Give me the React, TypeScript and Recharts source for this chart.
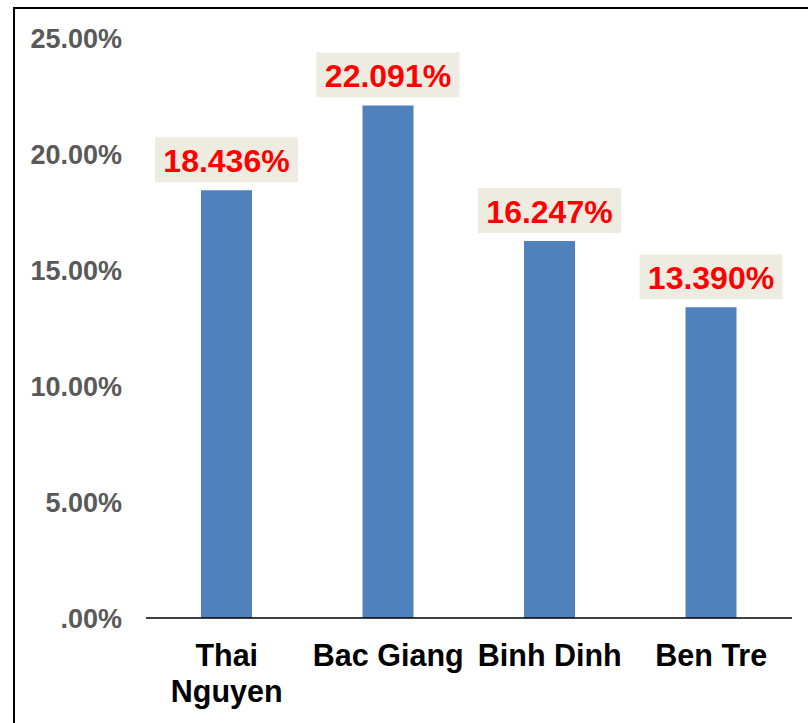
import React from "react";
import { BarChart, Bar, XAxis, YAxis, LabelList } from "recharts";

const provinces = ["Thai Nguyen", "Bac Giang", "Binh Dinh", "Ben Tre"];
const shares = [18.436, 22.091, 16.247, 13.39];
const yTicks = [0, 5, 10, 15, 20, 25];

const FONT = '"Liberation Sans", Arial, sans-serif';
const TICK_SIZE = 30.5;

const chartData = provinces.map((name, i) => ({ name, value: shares[i] }));

function formatTick(v: number) {
  return v === 0 ? ".00%" : `${v.toFixed(2)}%`;
}

let ctx: CanvasRenderingContext2D | null = null;
function measure(s: string) {
  if (!ctx) ctx = document.createElement("canvas").getContext("2d");
  if (!ctx) return s.length * TICK_SIZE * 0.6;
  ctx.font = `bold ${TICK_SIZE}px ${FONT}`;
  return ctx.measureText(s).width;
}

function wrap(label: string, maxWidth: number) {
  const lines: string[] = [];
  let cur = "";
  for (const w of label.split(" ")) {
    const next = cur ? `${cur} ${w}` : w;
    if (cur && measure(next) > maxWidth) {
      lines.push(cur);
      cur = w;
    } else cur = next;
  }
  if (cur) lines.push(cur);
  return lines;
}

// category labels wrap inside the band, first line top-aligned
function ProvinceTick(props: any) {
  const { x, y, payload } = props;
  const lines = wrap(String(payload.value), 160);
  return (
    <text
      x={x}
      y={y}
      textAnchor="middle"
      fontFamily={FONT}
      fontWeight="bold"
      fontSize={TICK_SIZE}
      fill="#000000"
    >
      {lines.map((ln, i) => (
        <tspan key={i} x={x} dy={i === 0 ? 21.5 : 36}>
          {ln}
        </tspan>
      ))}
    </text>
  );
}

function ValueBadge(props: any) {
  const { x, y, width, value } = props;
  const cx = x + width / 2;
  const boxW = 143;
  const boxH = 45;
  const top = y - 8 - boxH;
  return (
    <g>
      <rect x={cx - boxW / 2} y={top} width={boxW} height={boxH} fill="#EEECE1" />
      <text
        x={cx}
        y={top + boxH / 2 + 1}
        textAnchor="middle"
        dominantBaseline="central"
        fontFamily={FONT}
        fontWeight="bold"
        fontSize={32}
        fill="#FF0000"
      >
        {`${Number(value).toFixed(3)}%`}
      </text>
    </g>
  );
}

export default function App() {
  return (
    <div style={{ position: "absolute", left: 0, top: 0, width: 808, height: 723, background: "#fff", overflow: "hidden" }}>
      <div
        style={{
          position: "absolute",
          left: 13,
          top: 7,
          width: 820,
          height: 740,
          borderLeft: "2px solid #000",
          borderTop: "2px solid #000",
        }}
      />
      <div style={{ position: "absolute", left: 0, top: 0 }}>
        <BarChart
          width={808}
          height={723}
          data={chartData}
          margin={{ top: 38, right: 16, bottom: 0, left: 0 }}
        >
          <XAxis
            dataKey="name"
            height={105}
            interval={0}
            tickLine={false}
            tickSize={0}
            tickMargin={26}
            axisLine={{ stroke: "#000", strokeWidth: 1.5 }}
            tick={<ProvinceTick />}
          />
          <YAxis
            domain={[0, 25]}
            ticks={yTicks}
            width={146}
            axisLine={false}
            tickLine={false}
            tickSize={0}
            tickMargin={24}
            tickFormatter={formatTick}
            tick={{ fill: "#595959", fontSize: 27, fontWeight: "bold", fontFamily: FONT }}
          />
          <Bar dataKey="value" fill="#4F81BD" barSize={51} isAnimationActive={false}>
            <LabelList dataKey="value" content={<ValueBadge />} />
          </Bar>
        </BarChart>
      </div>
    </div>
  );
}
